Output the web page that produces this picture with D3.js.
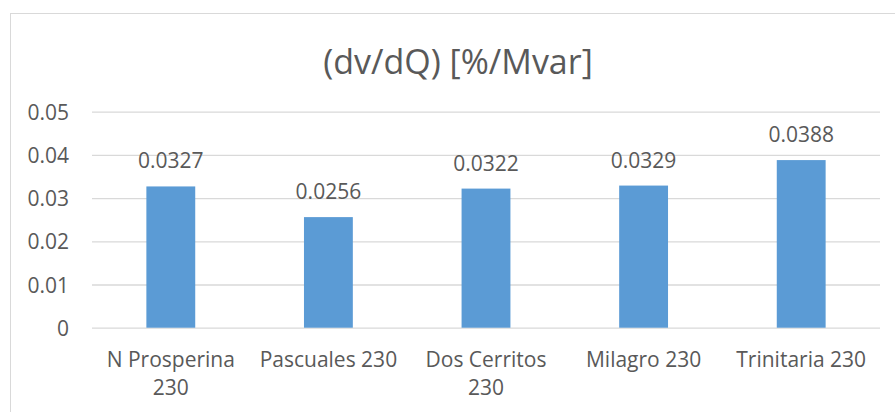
<!DOCTYPE html>
<html>
<head>
<meta charset="utf-8">
<script src="https://cdn.jsdelivr.net/npm/d3@7"></script>
<style>
  html, body { margin: 0; padding: 0; background: #fff; }
  svg { display: block; font-family: "Open Sans", sans-serif; }
</style>
</head>
<body>
<svg id="chart" width="895" height="412"></svg>
<script>
// Voltage sensitivity per bus
const categories = ["N Prosperina 230", "Pascuales 230", "Dos Cerritos 230", "Milagro 230", "Trinitaria 230"];
const values = [0.0327, 0.0256, 0.0322, 0.0329, 0.0388];
const yTicks = [0, 0.01, 0.02, 0.03, 0.04, 0.05];
const title = "(dv/dQ) [%/Mvar]";

const svg = d3.select("#chart");
const W = 895, H = 412;
const plot = { left: 92, right: 880, top: 111.7, bottom: 327.7 };
const textColor = "#595959";
const gridColor = "#d9d9d9";
const barColor = "#5b9bd5";

// chart frame (runs past the right and bottom edges)
svg.append("rect")
  .attr("x", 10.5).attr("y", 13.5)
  .attr("width", W + 20).attr("height", H + 20)
  .attr("fill", "#fff").attr("stroke", gridColor).attr("stroke-width", 1);

const x = d3.scaleBand().domain(categories).range([plot.left, plot.right]).paddingInner(0.69).paddingOuter(0.345);
const y = d3.scaleLinear().domain([0, 0.05]).range([plot.bottom, plot.top]);

// title, centred on the whole chart area
svg.append("text")
  .attr("x", 458).attr("y", 74)
  .attr("text-anchor", "middle")
  .attr("fill", textColor).attr("font-size", 34)
  .text(title);

// gridlines + y labels
const yAxis = d3.axisLeft(y).tickValues(yTicks).tickSize(-(plot.right - plot.left)).tickPadding(23)
  .tickFormat(d => d === 0 ? "0" : d3.format(".2f")(d));
const gy = svg.append("g").attr("transform", `translate(${plot.left},0)`).call(yAxis);
gy.select(".domain").remove();
gy.selectAll(".tick line").attr("stroke", gridColor).attr("stroke-width", 1.3);
gy.selectAll(".tick text").attr("fill", textColor).attr("font-size", 21)
  .attr("font-family", "Open Sans, sans-serif").attr("dy", "0.36em");

// bars
svg.append("g").selectAll("rect").data(values).join("rect")
  .attr("x", (d, i) => x(categories[i]))
  .attr("width", x.bandwidth())
  .attr("y", d => y(d))
  .attr("height", d => y(0) - y(d))
  .attr("fill", barColor);

// value labels
svg.append("g").selectAll("text").data(values).join("text")
  .attr("x", (d, i) => x(categories[i]) + x.bandwidth() / 2)
  .attr("y", d => y(d) - 18)
  .attr("text-anchor", "middle")
  .attr("fill", textColor).attr("font-size", 21)
  .text(d => d3.format(".4f")(d));

// category labels, wrapped when wider than the slot
const step = x.step();
const gx = svg.append("g");
categories.forEach(c => {
  const cx = x(c) + x.bandwidth() / 2;
  const t = gx.append("text").attr("x", cx).attr("y", 367)
    .attr("text-anchor", "middle").attr("fill", textColor).attr("font-size", 21);
  t.text(c);
  if (t.node().getComputedTextLength() > step - 8) {
    const words = c.split(" ");
    const last = words.pop();
    t.text(null);
    t.append("tspan").attr("x", cx).attr("y", 367).text(words.join(" "));
    t.append("tspan").attr("x", cx).attr("y", 395).text(last);
  }
});
</script>
</body>
</html>
